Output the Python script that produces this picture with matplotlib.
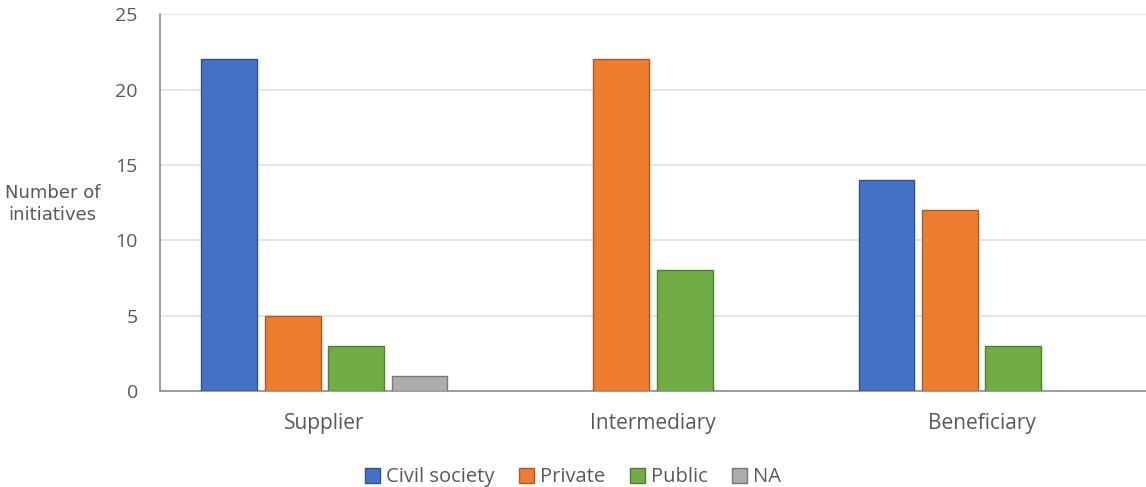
import numpy as np
import matplotlib
matplotlib.use('Agg')
import matplotlib.pyplot as plt
from matplotlib.patches import Patch

# Initiatives by role and sector
roles = ['Supplier', 'Intermediary', 'Beneficiary']
sectors = ['Civil society', 'Private', 'Public', 'NA']
civil_society = [22, 0, 14]
private = [5, 22, 12]
public = [3, 8, 3]
na = [1, 0, 0]

values = [civil_society, private, public, na]
fills = ['#4472C4', '#ED7D31', '#70AD47', '#AFABAB']
edges = ['#2F528F', '#AE5A21', '#507E32', '#787878']

plt.rcParams['font.family'] = ['Open Sans', 'DejaVu Sans']

fig = plt.figure(figsize=(11.46, 4.87), dpi=100)
ax = fig.add_axes([0.1396, 0.197, 0.8604, 0.774])

x = np.arange(len(roles))
step = 0.193
width = 0.17
for i, (vals, fc, ec) in enumerate(zip(values, fills, edges)):
    offs = (i - 1.5) * step
    for xi, v in zip(x, vals):
        if v > 0:
            ax.bar(xi + offs, v, width, color=fc, edgecolor=ec, linewidth=1.0, zorder=3)

ax.set_xlim(-0.5, 2.5)
ax.set_ylim(0, 25)
ax.set_yticks(range(0, 26, 5))
ax.set_xticks(x)
ax.set_xticklabels(roles)
ax.tick_params(axis='y', length=0, labelsize=14, colors='#595959', pad=16)
ax.tick_params(axis='x', length=0, labelsize=15, colors='#595959', pad=16)
ax.grid(axis='y', color='#DEDEDE', linewidth=1.1, zorder=0)
for s in ['top', 'right']:
    ax.spines[s].set_visible(False)
for s in ['left', 'bottom']:
    ax.spines[s].set_color('#8C8C8C')
    ax.spines[s].set_linewidth(1.2)

fig.text(0.046, 0.581, 'Number of\ninitiatives', ha='center', va='center',
         fontsize=13, color='#595959', family='DejaVu Sans', linespacing=1.25)

handles = [Patch(facecolor=fc, edgecolor=ec, label=s) for s, fc, ec in zip(sectors, fills, edges)]
fig.legend(handles=handles, loc='center', bbox_to_anchor=(0.5, 0.02), ncol=4, frameon=False,
           fontsize=14.5, handlelength=0.75, handleheight=0.75, handletextpad=0.3,
           columnspacing=1.2, labelcolor='#595959')

fig.savefig('out.png', dpi=100)
